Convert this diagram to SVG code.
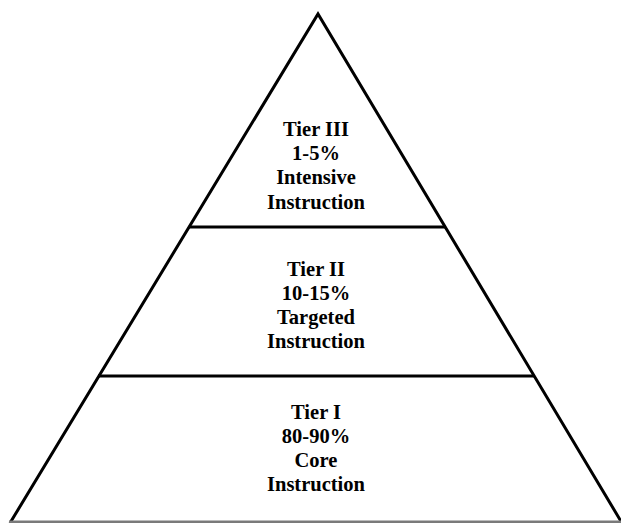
<svg xmlns="http://www.w3.org/2000/svg" width="621" height="523" viewBox="0 0 621 523">
<style>
.edge{stroke:#000;stroke-width:3;fill:none;stroke-linejoin:miter}
.base{stroke:#7a7a7a;stroke-width:3;fill:none}
.lbl{font-family:"Liberation Serif","Times New Roman",serif;font-weight:bold;font-size:20.5px;fill:#000;text-anchor:middle}
</style>
<rect width="621" height="523" fill="#fff"/>
<g id="pyramid">
<polyline class="edge" points="10,523 318,14 622,523"/>
<line class="base" x1="9" y1="522" x2="621" y2="522"/>
</g>
<g id="connectors">
<line class="edge" x1="189" y1="227" x2="446" y2="227"/>
<line class="edge" x1="98" y1="376" x2="534" y2="376"/>
</g>
<g id="tier3">
<text class="lbl" x="316" y="136">Tier III</text>
<text class="lbl" x="316" y="160">1-5%</text>
<text class="lbl" x="316" y="184">Intensive</text>
<text class="lbl" x="316" y="209">Instruction</text>
</g>
<g id="tier2">
<text class="lbl" x="316" y="276">Tier II</text>
<text class="lbl" x="316" y="300">10-15%</text>
<text class="lbl" x="316" y="324">Targeted</text>
<text class="lbl" x="316" y="348">Instruction</text>
</g>
<g id="tier1">
<text class="lbl" x="316" y="419">Tier I</text>
<text class="lbl" x="316" y="443">80-90%</text>
<text class="lbl" x="316" y="467">Core</text>
<text class="lbl" x="316" y="491">Instruction</text>
</g>
</svg>
